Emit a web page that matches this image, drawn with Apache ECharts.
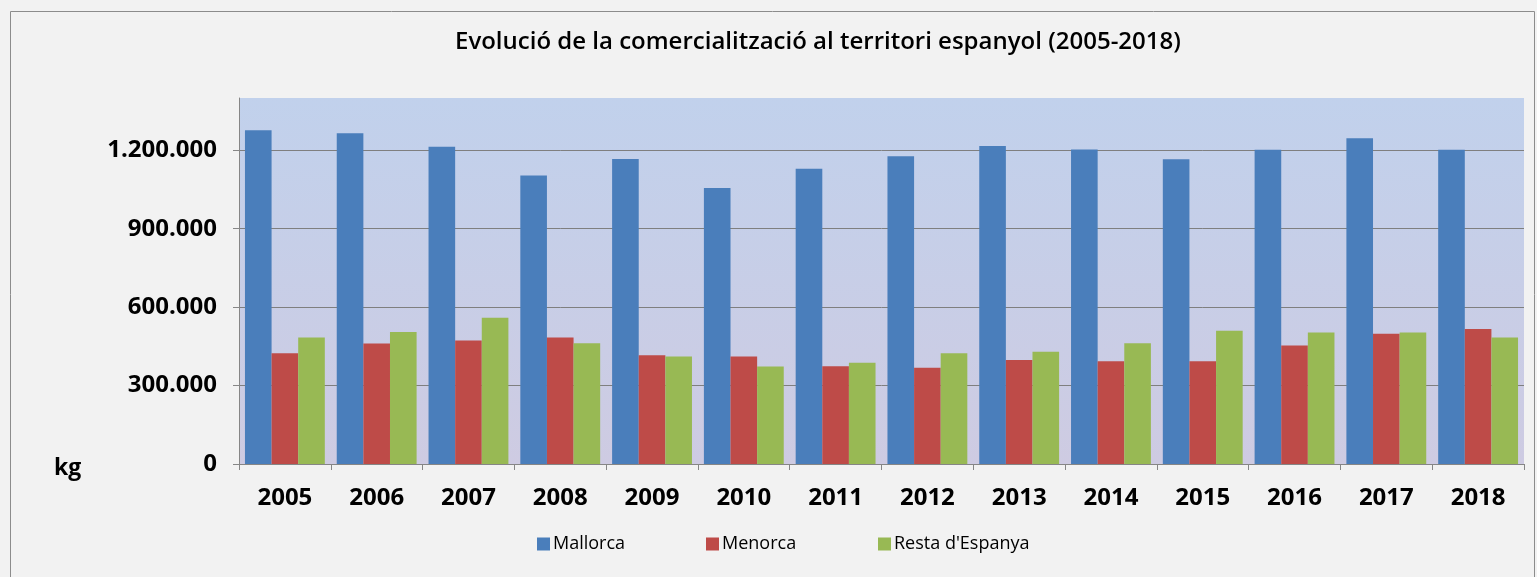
<!DOCTYPE html>
<html>
<head>
<meta charset="utf-8">
<script src="https://cdn.jsdelivr.net/npm/echarts@6/dist/echarts.min.js"></script>
<style>
  html, body { margin: 0; padding: 0; background: #f2f2f2; }
  #chart { width: 1537px; height: 577px; }
</style>
</head>
<body>
<div id="chart"></div>
<script>
var years = ["2005", "2006", "2007", "2008", "2009", "2010", "2011", "2012", "2013", "2014", "2015", "2016", "2017", "2018"];
var mallorca = [1277000, 1265000, 1214000, 1104000, 1167000, 1056000, 1129000, 1177000, 1216000, 1203000, 1166000, 1202000, 1246000, 1202000];
var menorca = [424000, 461000, 472000, 484000, 416000, 411000, 374000, 368000, 398000, 393000, 393000, 453000, 498000, 516000];
var restaEspanya = [484000, 505000, 559000, 462000, 411000, 373000, 387000, 424000, 429000, 462000, 510000, 503000, 503000, 484000];
var seriesNames = ["Mallorca", "Menorca", "Resta d'Espanya"];

var chart = echarts.init(document.getElementById("chart"));

function fmtThousands(v) {
  return String(v).replace(/\B(?=(\d{3})+(?!\d))/g, ".");
}

var font = "Open Sans";

chart.setOption({
  backgroundColor: "#f2f2f2",
  animation: false,
  title: {
    text: "Evolució de la comercialització al territori espanyol (2005-2018)",
    left: 455,
    top: 30,
    padding: 0,
    textStyle: { fontFamily: font, fontSize: 24, fontWeight: 600, color: "#000" }
  },
  legend: [
    { data: [seriesNames[0]], left: 537, top: 535 },
    { data: [seriesNames[1]], left: 706, top: 535 },
    { data: [seriesNames[2]], left: 878, top: 535 }
  ].map(function (l) {
    l.icon = "rect";
    l.padding = 0;
    l.itemWidth = 13;
    l.itemHeight = 13;
    l.itemGap = 0;
    l.textStyle = { fontFamily: font, fontSize: 18, color: "#000", padding: [0, 0, 0, -2] };
    return l;
  }),
  graphic: [{
    type: "rect",
    shape: { x: 10.5, y: 11.5, width: 1524, height: 566 },
    style: { fill: null, stroke: "#8c8c8c", lineWidth: 1 },
    silent: true,
    z: -1
  }, {
    type: "text",
    left: 54,
    top: 457,
    style: { text: "kg", font: "bold 23px 'Open Sans'", fill: "#000" }
  }],
  grid: {
    left: 239,
    right: 13,
    top: 98,
    bottom: 113,
    show: true,
    borderWidth: 0,
    backgroundColor: {
      type: "linear", x: 0, y: 0, x2: 0, y2: 1,
      colorStops: [
        { offset: 0, color: "#c1d1ec" },
        { offset: 1, color: "#cecbe2" }
      ]
    }
  },
  xAxis: {
    type: "category",
    data: years,
    axisLine: { lineStyle: { color: "#868686", width: 1 } },
    axisTick: { show: true, length: 6, lineStyle: { color: "#868686" } },
    axisLabel: { fontFamily: font, fontSize: 24, fontWeight: "bold", color: "#000", margin: 22 }
  },
  yAxis: {
    type: "value",
    min: 0,
    max: 1400000,
    interval: 300000,
    axisLine: { show: true, lineStyle: { color: "#868686" } },
    axisTick: { show: true, length: 6, lineStyle: { color: "#868686" } },
    axisLabel: {
      fontFamily: font, fontSize: 24, fontWeight: "bold", color: "#000", margin: 22,
      showMaxLabel: false,
      formatter: function (v) { return fmtThousands(v); }
    },
    splitLine: { show: true, showMaxLine: false, lineStyle: { color: "#7f7f7f", width: 1 } }
  },
  series: [
    { name: seriesNames[0], type: "bar", data: mallorca, itemStyle: { color: "#4a7ebb" }, barGap: "0%", barCategoryGap: "13%" },
    { name: seriesNames[1], type: "bar", data: menorca, itemStyle: { color: "#be4b48" }, barGap: "0%", barCategoryGap: "13%" },
    { name: seriesNames[2], type: "bar", data: restaEspanya, itemStyle: { color: "#98b954" }, barGap: "0%", barCategoryGap: "13%" }
  ]
});
</script>
</body>
</html>
